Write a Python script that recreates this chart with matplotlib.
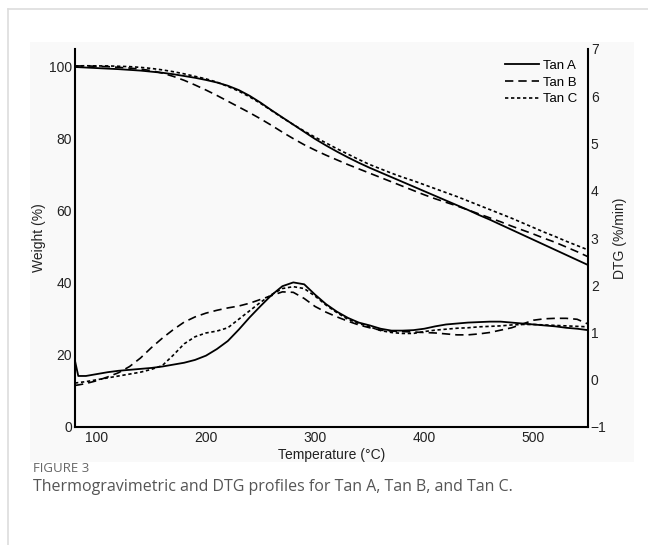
import matplotlib
matplotlib.use("Agg")
import matplotlib.pyplot as plt
from matplotlib.lines import Line2D
from matplotlib.patches import Rectangle

plt.rcParams['font.family'] = ['Liberation Sans', 'DejaVu Sans']

# ---------------- data ----------------
temp = [80, 90, 100, 110, 120, 130, 140, 150, 160, 170, 180, 190, 200,
        210, 220, 230, 240, 250, 260, 270, 280, 290, 300, 310, 320, 330,
        340, 350, 360, 370, 380, 390, 400, 410, 420, 430, 440, 450, 460,
        470, 480, 490, 500, 510, 520, 530, 540, 550]

weight_a = [100.0, 99.85, 99.7, 99.55, 99.4, 99.2, 99.0, 98.7, 98.4, 98.0, 97.5,
            97.0, 96.4, 95.7, 94.8, 93.6, 92.0, 90.1, 88.0, 86.0, 84.0, 82.0,
            80.0, 78.2, 76.5, 74.9, 73.4, 72.0, 70.7, 69.4, 68.1, 66.8, 65.5,
            64.2, 62.9, 61.6, 60.3, 58.9, 57.6, 56.2, 54.8, 53.4, 52.0, 50.6,
            49.2, 47.8, 46.4, 45.0]
weight_b = [100.3, 100.3, 100.2, 100.1, 99.9, 99.7, 99.4, 99.0, 98.3, 97.4, 96.3,
            95.0, 93.6, 92.1, 90.5, 88.9, 87.3, 85.6, 83.8, 81.9, 80.1, 78.4,
            76.9, 75.5, 74.2, 72.9, 71.7, 70.5, 69.3, 68.1, 66.9, 65.7, 64.5,
            63.4, 62.4, 61.4, 60.3, 59.2, 58.1, 57.0, 55.8, 54.7, 53.6, 52.4,
            51.3, 50.0, 48.7, 47.3]
weight_c = [100.3, 100.35, 100.3, 100.3, 100.2, 100.1, 99.9, 99.6, 99.2, 98.7,
            98.1, 97.4, 96.7, 95.8, 94.6, 93.3, 91.7, 89.9, 87.9, 85.9, 84.0,
            82.2, 80.5, 78.9, 77.3, 75.8, 74.3, 72.9, 71.7, 70.5, 69.4, 68.4,
            67.3, 66.2, 65.1, 64.0, 62.8, 61.6, 60.4, 59.2, 58.0, 56.7, 55.4,
            54.1, 52.9, 51.6, 50.4, 49.2]

temp_dtg = [80, 83, 90, 100, 110, 120, 130, 140, 150, 160, 170, 180, 190, 200,
            210, 220, 230, 240, 250, 260, 270, 280, 290, 300, 310, 320, 330,
            340, 350, 360, 370, 380, 390, 400, 410, 420, 430, 440, 450, 460,
            470, 480, 490, 500, 510, 520, 530, 540, 550]
dtg_a = [0.40, 0.08, 0.08, 0.12, 0.16, 0.19, 0.21, 0.23, 0.25, 0.28, 0.32, 0.36,
         0.42, 0.51, 0.65, 0.82, 1.06, 1.32, 1.56, 1.79, 1.98, 2.06, 2.02, 1.80,
         1.60, 1.44, 1.31, 1.21, 1.15, 1.08, 1.04, 1.04, 1.05, 1.08, 1.13, 1.17,
         1.19, 1.21, 1.22, 1.23, 1.23, 1.21, 1.19, 1.17, 1.15, 1.13, 1.10, 1.08,
         1.05]
dtg_b = [-0.12, -0.11, -0.08, -0.02, 0.06, 0.15, 0.28, 0.46, 0.68, 0.88, 1.06,
         1.22, 1.33, 1.41, 1.47, 1.52, 1.56, 1.62, 1.70, 1.78, 1.86, 1.85, 1.72,
         1.55, 1.43, 1.33, 1.24, 1.16, 1.10, 1.05, 1.03, 1.02, 1.01, 1.00, 0.99,
         0.97, 0.95, 0.95, 0.97, 1.00, 1.05, 1.10, 1.18, 1.26, 1.29, 1.30, 1.30,
         1.28, 1.18]
dtg_c = [-0.07, -0.06, -0.04, 0.00, 0.04, 0.08, 0.12, 0.16, 0.22, 0.30, 0.52,
         0.76, 0.91, 0.99, 1.03, 1.10, 1.28, 1.46, 1.64, 1.80, 1.93, 1.97, 1.93,
         1.77, 1.58, 1.42, 1.28, 1.19, 1.12, 1.04, 1.00, 0.98, 0.98, 1.02, 1.05,
         1.07, 1.09, 1.10, 1.12, 1.13, 1.14, 1.16, 1.17, 1.17, 1.16, 1.15, 1.14,
         1.13, 1.12]

series_names = ["Tan A", "Tan B", "Tan C"]
x_ticks = [100, 200, 300, 400, 500]
left_ticks = [0, 20, 40, 60, 80, 100]
right_ticks = [-1, 0, 1, 2, 3, 4, 5, 6, 7]

# ---------------- figure ----------------
W, H = 648, 545
fig = plt.figure(figsize=(W / 100, H / 100), dpi=100)
fig.patch.set_facecolor("white")

# card border (left and top)
fig.add_artist(Line2D([8 / W, 8 / W], [0, 1 - 9 / H], color="#dddddd", lw=1.2,
                      transform=fig.transFigure))
fig.add_artist(Line2D([8 / W, 1], [1 - 9 / H, 1 - 9 / H], color="#dddddd", lw=1.2,
                      transform=fig.transFigure))
# light panel behind chart
fig.add_artist(Rectangle((30 / W, 1 - 462 / H), (634 - 30) / W, (462 - 42) / H,
                         transform=fig.transFigure, facecolor="#f9f9f9",
                         edgecolor="none", zorder=0))

ax = fig.add_axes([75 / W, 1 - 427 / H, (588 - 75) / W, (427 - 49) / H])
ax.set_facecolor("#f9f9f9")
ax2 = ax.twinx()

styles = [dict(ls="-", lw=1.3), dict(ls=(0, (5, 3)), lw=1.2), dict(ls=(0, (2, 1.6)), lw=1.2)]
weights = [weight_a, weight_b, weight_c]
dtgs = [dtg_a, dtg_b, dtg_c]
handles = []
for name, w, d, st in zip(series_names, weights, dtgs, styles):
    h, = ax.plot(temp, w, color="black", label=name, **st)
    ax2.plot(temp_dtg, d, color="black", **st)
    handles.append(h)

ax.set_xlim(80, 550)
ax.set_ylim(0, 105)
ax2.set_ylim(-1, 7)
ax.set_xticks(x_ticks)
ax.set_yticks(left_ticks)
ax2.set_yticks(right_ticks)

for a in (ax, ax2):
    a.tick_params(length=0, labelsize=10, colors="#222222", pad=2)
    for s in a.spines.values():
        s.set_visible(False)
ax.spines["left"].set_visible(True)
ax.spines["bottom"].set_visible(True)
ax2.spines["right"].set_visible(True)
ax.spines["left"].set_linewidth(1.5)
ax.spines["bottom"].set_linewidth(1.5)
ax2.spines["right"].set_linewidth(1.5)
ax.tick_params(axis="x", pad=3)

ax.set_xlabel("Temperature (\u00b0C)", fontsize=10, labelpad=2, color="#222222")
ax.set_ylabel("Weight (%)", fontsize=10, labelpad=2, color="#222222")
ax2.set_ylabel("DTG (%/min)", fontsize=10, labelpad=5, color="#222222")

leg = ax.legend(handles=handles, loc="upper right", frameon=False, fontsize=9.5,
                handlelength=2.6, handletextpad=0.3, labelspacing=0.35,
                borderaxespad=0.4)

# caption
fig.text(33 / W, 1 - 468 / H, "FIGURE 3", fontsize=9.5, color="#666666",
         family=["Open Sans", "DejaVu Sans"], va="center", ha="left")
fig.text(33 / W, 1 - 487 / H,
         "Thermogravimetric and DTG profiles for Tan A, Tan B, and Tan C.",
         fontsize=11.5, color="#555555", family=["Open Sans", "DejaVu Sans"],
         va="center", ha="left")

fig.savefig("out.png", dpi=100)
